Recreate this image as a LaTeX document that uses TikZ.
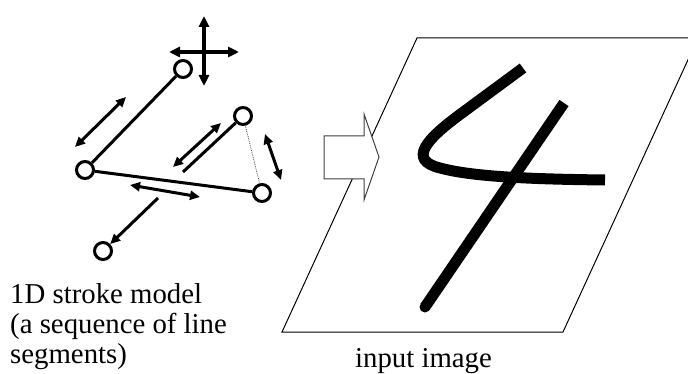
\documentclass[tikz,border=0pt]{standalone}
\usepackage{fontspec}
\setmainfont{Liberation Serif}
\usetikzlibrary{arrows.meta}
\begin{document}
\begin{tikzpicture}[x=1pt,y=-1pt,
  joint/.style={circle,draw,line width=3pt,fill=white,inner sep=0pt,minimum size=17pt},
  seg/.style={line width=3pt},
  dbl/.style={line width=3pt,{Triangle[length=10pt,width=9pt]}-{Triangle[length=10pt,width=9pt]}},
  one/.style={line width=3pt,-{Triangle[length=10pt,width=9pt]}},
  crossarr/.style={line width=3.8pt,{Triangle[length=11pt,width=10pt]}-{Triangle[length=11pt,width=10pt]}},
  lbl/.style={inner sep=0pt,anchor=base west,font=\fontsize{28.8}{30}\selectfont},
  digit/.style={line width=11pt,line cap=butt}
]
\useasboundingbox (0,0) rectangle (688,374);

% ---------- left: 1D stroke model ----------
\coordinate (cv1) at (204,16);
\coordinate (cv2) at (204,86);
\coordinate (ch1) at (169,52);
\coordinate (ch2) at (239,52);
\draw[crossarr] (cv1) -- (cv2);
\draw[crossarr] (ch1) -- (ch2);

\coordinate (free1) at (183,172);
\coordinate (free2) at (158,198);

\node[joint] (A) at (183,69) {};
\node[joint] (B) at (85,170) {};
\node[joint] (C) at (262,193) {};
\node[joint] (D) at (243,116) {};
\node[joint] (E) at (103,251) {};

\draw[seg] (B) -- (A);
\draw[seg] (B) -- (C);
\draw[seg] (D) -- (free1);
\draw[line width=0.8pt,densely dotted,black!70] (D) -- (C);
\draw[one] (free2) -- (E);

\coordinate (d1a) at (75,147);
\coordinate (d1b) at (126,97);
\coordinate (d2a) at (173,167);
\coordinate (d2b) at (221,123);
\coordinate (d3a) at (130,185);
\coordinate (d3b) at (200,197);
\coordinate (d4a) at (265,134);
\coordinate (d4b) at (281,180);
\draw[dbl] (d1a) -- (d1b);
\draw[dbl] (d2a) -- (d2b);
\draw[dbl] (d3a) -- (d3b);
\draw[dbl] (d4a) -- (d4b);

\node[lbl] (t1) at (10,303) {1D stroke model};
\node[lbl] (t2) at (10,333) {(a sequence of line};
\node[lbl] (t3) at (10,363) {segments)};

% ---------- right: input image ----------
\begin{scope}
\clip (0,0) rectangle (688,374);
\draw[line width=1pt] (282,332) -- (417,38) -- (698,38) -- (563,332) -- cycle;
\end{scope}

\draw[digit] (523,68) -- (462,113) .. controls (425,140) and (408,160) .. (440,168)
  .. controls (470,176) and (520,179) .. (605,180);
\coordinate (s2a) at (564,103);
\coordinate (s2b) at (425,307);
\draw[digit] (s2a) -- (s2b);
\fill (s2b) circle (5.5pt);

\draw[line width=1pt,black!75,fill=white,line join=miter]
  (324,136) -- (364,136) -- (364,114) -- (379,157) -- (364,200) -- (364,179) -- (324,179) -- cycle;

\node[lbl,anchor=base] (t4) at (423.5,367) {input image};
\end{tikzpicture}
\end{document}
